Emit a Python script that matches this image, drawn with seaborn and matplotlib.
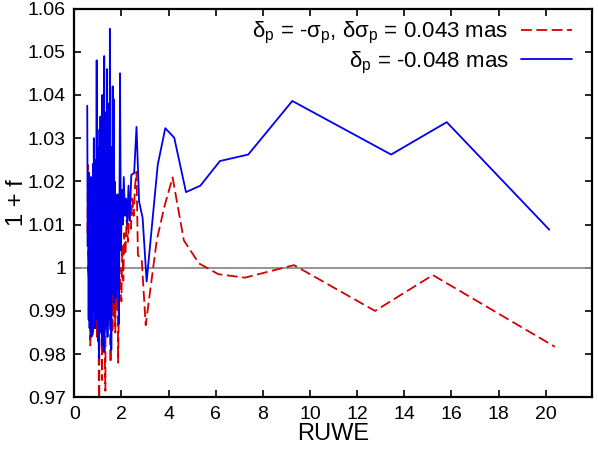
import numpy as np
import pandas as pd
import matplotlib
matplotlib.use("Agg")
import matplotlib.pyplot as plt
from matplotlib.ticker import FuncFormatter
import seaborn as sns

# RUWE bins and 1+f values
ruwe_red = [0.56, 0.58, 0.60, 0.62, 0.64, 0.66, 0.68, 0.70, 0.72, 0.74,
            0.76, 0.78, 0.80, 0.82, 0.84, 0.86, 0.88, 0.90, 0.92, 0.94,
            0.96, 0.98, 1.00, 1.02, 1.04, 1.06, 1.08, 1.10, 1.12, 1.14,
            1.16, 1.18, 1.20, 1.22, 1.24, 1.26, 1.28, 1.30, 1.32, 1.34,
            1.36, 1.38, 1.40, 1.42, 1.44, 1.46, 1.48, 1.50, 1.52, 1.54,
            1.56, 1.58, 1.60, 1.62, 1.64, 1.66, 1.68, 1.70, 1.72, 1.74,
            1.76, 1.78, 1.80, 1.82, 1.84, 1.86, 1.88, 1.92, 1.96, 2.00,
            2.04, 2.08, 2.12, 2.17, 2.22, 2.28, 2.34, 2.40, 2.46, 2.52,
            2.58, 2.64, 2.70, 2.86, 3.03, 3.50, 3.82, 4.17, 4.65, 5.29,
            6.11, 7.24, 9.32, 12.76, 15.21, 20.39]
f_red = [1.008, 1.0238, 0.998, 1.015, 0.990, 1.010, 0.982, 1.012, 0.994, 1.018,
         0.988, 1.010, 0.985, 1.020, 0.992, 1.012, 0.986, 1.022, 0.995, 1.005,
         0.984, 1.015, 0.990, 1.010, 0.975, 0.968, 1.010, 0.995, 1.0245, 0.990,
         1.005, 0.974, 1.012, 0.992, 1.020, 0.985, 1.008, 0.978, 0.9715, 1.010,
         0.992, 1.022, 0.988, 1.015, 0.986, 1.029, 0.995, 1.012, 0.990, 0.978,
         1.012, 0.990, 1.018, 0.985, 1.005, 0.990, 1.016, 0.988, 1.010, 0.985,
         1.005, 0.990, 1.010, 0.992, 1.000, 0.978, 0.9863, 1.000, 0.995, 0.9922,
         1.005, 0.997, 1.008, 1.003, 1.011, 1.006, 1.014, 1.009, 1.016, 1.012,
         1.019, 1.0222, 1.0029, 1.002, 0.9867, 1.0064, 1.0141, 1.0209, 1.0063, 1.001,
         0.9985, 0.9977, 1.0006, 0.990, 0.9983, 0.9817]

ruwe_blue = [0.55, 0.57, 0.59, 0.61, 0.63, 0.65, 0.67, 0.69, 0.71, 0.73,
             0.75, 0.77, 0.79, 0.81, 0.83, 0.85, 0.87, 0.89, 0.91, 0.93,
             0.95, 0.97, 0.99, 1.01, 1.03, 1.05, 1.07, 1.09, 1.11, 1.13,
             1.15, 1.17, 1.19, 1.21, 1.23, 1.25, 1.27, 1.29, 1.31, 1.33,
             1.35, 1.37, 1.39, 1.41, 1.43, 1.45, 1.47, 1.49, 1.51, 1.53,
             1.55, 1.57, 1.59, 1.61, 1.63, 1.65, 1.67, 1.69, 1.71, 1.73,
             1.75, 1.77, 1.79, 1.81, 1.83, 1.85, 1.87, 1.89, 1.91, 1.94,
             1.98, 2.02, 2.06, 2.10, 2.15, 2.20, 2.25, 2.30, 2.35, 2.42,
             2.54, 2.64, 2.75, 2.90, 3.07, 3.54, 3.86, 4.24, 4.74, 5.35,
             6.18, 7.38, 9.25, 13.44, 15.80, 20.15]
f_blue = [1.0375, 1.005, 1.020, 0.988, 1.022, 0.986, 1.015, 0.995, 1.021, 0.984,
          1.012, 0.9845, 1.024, 0.992, 1.030, 0.990, 1.018, 0.986, 1.025, 0.995,
          1.048, 0.988, 1.020, 0.983, 1.028, 0.979, 1.032, 0.990, 1.035, 0.985,
          1.022, 0.982, 1.040, 0.990, 1.026, 0.9805, 1.049, 0.988, 1.036, 0.986,
          1.024, 0.995, 1.046, 0.984, 1.030, 0.992, 1.038, 0.988, 1.0553, 0.990,
          1.028, 0.981, 1.022, 0.994, 1.042, 0.997, 1.039, 0.992, 1.020, 1.002,
          1.016, 0.993, 1.012, 1.000, 1.017, 0.995, 1.010, 0.987, 1.003, 1.045,
          1.004, 1.018, 1.010, 1.021, 1.012, 1.016, 1.010, 1.019, 1.011, 1.0215,
          1.0219, 1.0326, 1.0153, 1.0115, 0.9968, 1.0238, 1.0323, 1.0301, 1.0175, 1.019,
          1.0247, 1.0262, 1.0386, 1.0262, 1.0337, 1.0088]

label_red = r"δ$_\mathregular{p}$ = -σ$_\mathregular{p}$, δσ$_\mathregular{p}$ = 0.043 mas"
label_blue = r"δ$_\mathregular{p}$ = -0.048 mas"

sns.set_style("ticks")
plt.rcParams["font.family"] = ["Liberation Sans", "DejaVu Sans"]
plt.rcParams["mathtext.fontset"] = "custom"
plt.rcParams["mathtext.rm"] = "Liberation Sans"
plt.rcParams["text.color"] = "black"
plt.rcParams["axes.labelcolor"] = "black"
plt.rcParams["xtick.color"] = "black"
plt.rcParams["ytick.color"] = "black"

fig = plt.figure(figsize=(5.98, 4.49), dpi=100)
ax = fig.add_axes([0.1242, 0.1151, 0.8653, 0.8659])

ax.axhline(1.0, color="#8c8c8c", lw=1.3, zorder=1)

red_df = pd.DataFrame({"ruwe": ruwe_red, "f": f_red})
blue_df = pd.DataFrame({"ruwe": ruwe_blue, "f": f_blue})

sns.lineplot(data=red_df, x="ruwe", y="f", ax=ax, sort=False, estimator=None,
             color="#d40000", lw=1.3, label=label_red, zorder=2)
ax.lines[-1].set_dashes((6, 2.5))
sns.lineplot(data=blue_df, x="ruwe", y="f", ax=ax, sort=False, estimator=None,
             color="#0000ee", lw=1.3, label=label_blue, zorder=3)

ax.set_xlim(0, 21.95)
ax.set_ylim(0.97, 1.06)
ax.set_xticks(np.arange(0, 21, 2))
ax.set_yticks(np.arange(0.97, 1.0601, 0.01))
ax.yaxis.set_major_formatter(FuncFormatter(lambda v, p: f"{v:g}"))

ax.tick_params(direction="in", length=5, width=1.2, top=True, right=True,
               labelsize=14, pad=6, colors="black")
for s in ax.spines.values():
    s.set_linewidth(1.6)
    s.set_color("black")

ax.set_xlabel("RUWE", fontsize=17, labelpad=0)
ax.set_ylabel("1 + f", fontsize=17, labelpad=0)

leg = ax.legend(loc="upper right", bbox_to_anchor=(0.962, 0.97), frameon=False,
                markerfirst=False, fontsize=16, handlelength=2.3,
                handletextpad=0.55, labelspacing=0.15, borderaxespad=0,
                borderpad=0)

fig.savefig("out.png", dpi=100)
